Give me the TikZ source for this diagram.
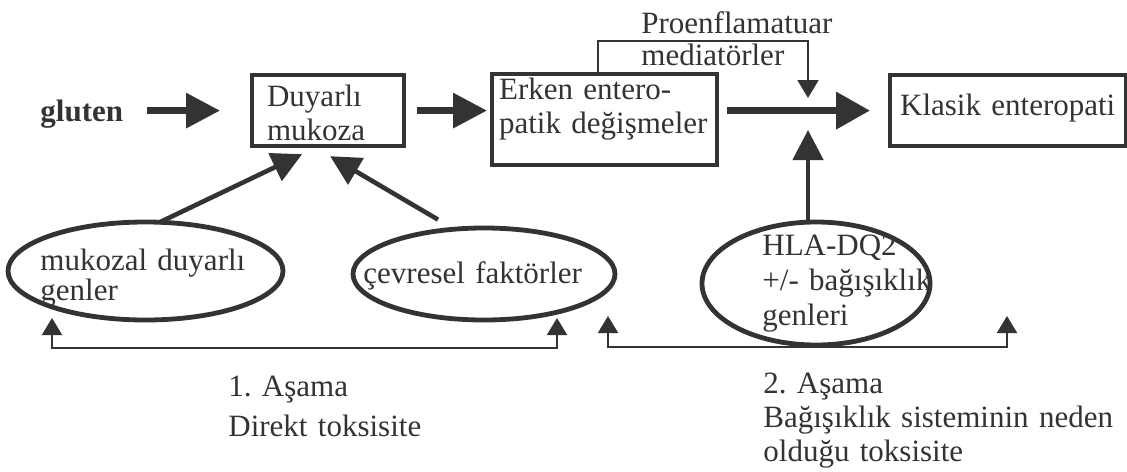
\documentclass[tikz,border=0pt]{standalone}
\usepackage{fontspec}
\setmainfont{Liberation Serif}
\frenchspacing
\usetikzlibrary{arrows.meta,shapes.geometric}

\begin{document}
\begin{tikzpicture}[x=0.5pt, y=-0.5pt,
    every node/.style={text=black!80, inner sep=0pt,
        font=\fontsize{15.5}{17}\selectfont},
    kutu/.style={draw=black!80, line width=2.1pt, anchor=north west, align=left},
    oval/.style={draw=black!80, ellipse, line width=2.4pt},
    yazi/.style={anchor=base west, align=left, text width=180pt},
    kalin/.style={draw=black!80, line width=3.2pt,
        -{Triangle[length=17pt, width=17pt]}},
    orta/.style={draw=black!80, line width=2.3pt,
        -{Triangle[length=15pt, width=15pt]}},
    ince/.style={draw=black!80, line width=1pt}]

    \useasboundingbox (0,0) rectangle (1127,471);

    % kutular
    \node[anchor=base west, font=\fontsize{15.5}{17}\selectfont\bfseries] (gluten) at (40,121) {gluten};
    \node[kutu, text width=61pt, text height=15.5pt, text depth=20pt,
          inner xsep=7.5pt] (duyarli) at (250,73) {Duyarlı\\mukoza};
    \node[kutu, text width=105.5pt, text height=12.5pt, text depth=33pt,
          inner xsep=3.5pt] (erken) at (490,72) {Erken entero-\\patik değişmeler};
    \node[kutu, text width=108pt, text height=20pt, text depth=15.5pt,
          inner xsep=5pt] (klasik) at (888,73) {Klasik enteropati};
    \node[yazi, font=\fontsize{15.5}{16}\selectfont] (proenf) at (641,33) {Proenflamatuar\\mediatörler};

    % ana oklar
    \draw[kalin, shorten <=12pt, shorten >=15pt] (gluten.east |- duyarli.west) -- (duyarli.west);
    \draw[kalin, shorten <=5.5pt, shorten >=1.5pt] (duyarli.east) -- (erken.west |- duyarli.east);
    \draw[kalin, line width=3.6pt, -{Triangle[length=17pt, width=18pt]},
          shorten <=4pt, shorten >=9pt] (erken.east |- klasik.west) -- (klasik.west);

    % kavsak: mediatörler ve HLA oku ana oka burada gelir
    \coordinate (kavsak) at (808,108.5);
    \draw[ince, -{Triangle[length=9pt, width=10.5pt]}]
         (erken.north -| 598,0) |- (808,41) -- ([yshift=5.25pt]kavsak);

    % elipsler
    \node[oval, minimum width=137.5pt, minimum height=49pt] (mukozal) at (145.5,271) {};
    \node[oval, minimum width=131pt, minimum height=46pt] (cevresel) at (484,274) {};
    \node[oval, minimum width=114pt, minimum height=61.5pt] (hla) at (816,283.5) {};
    \node[yazi, font=\fontsize{15.5}{14}\selectfont] (mukozaltxt) at (40,270) {mukozal duyarlı\\genler};
    \node[yazi] (cevreseltxt) at (363,283) {çevresel faktörler};
    \node[yazi, font=\fontsize{15.5}{17.5}\selectfont] (hlatxt) at (762,255)
         {HLA-DQ2\\+/- bağışıklık\\genleri};

    \draw[orta] ([xshift=6.75pt, yshift=-1.5pt]mukozal.north)
             -- ([xshift=-13pt, yshift=-3pt]duyarli.south);
    \draw[orta] ([xshift=-23pt, yshift=3pt]cevresel.north)
             -- ([xshift=1pt, yshift=-4pt]duyarli.south);
    \draw[orta, shorten >=10.75pt] (hla.north -| kavsak) -- (kavsak);

    % asamalar
    \coordinate (a1sol) at (52,318);
    \coordinate (a1sag) at (557,318);
    \coordinate (a2sol) at (608,316);
    \coordinate (a2sag) at (1007,316);
    \draw[ince, {Triangle[length=8.5pt, width=10pt]}-{Triangle[length=8.5pt, width=10pt]}]
         (a1sol) -- ++(0,30) -| (a1sag);
    \draw[ince, {Triangle[length=8.5pt, width=10pt]}-{Triangle[length=8.5pt, width=10pt]}]
         (a2sol) -- ++(0,31) -| (a2sag);

    \node[yazi, font=\fontsize{15.5}{20}\selectfont] (asama1) at (228,396)
         {1. Aşama\\Direkt toksisite};
    \node[yazi] (asama2) at (763,393)
         {2. Aşama\\Bağışıklık sisteminin neden\\olduğu toksisite};
\end{tikzpicture}
\end{document}
